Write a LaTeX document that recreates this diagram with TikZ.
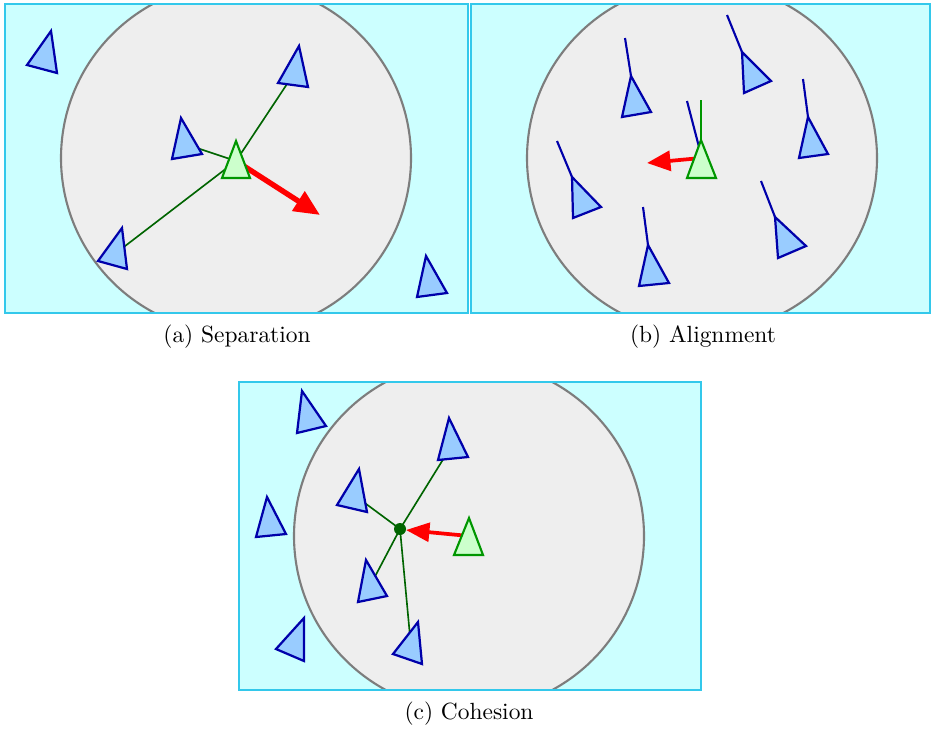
\documentclass[tikz,border=0pt]{standalone}
\usepackage{xcolor}
\usepackage{tikz}
\usetikzlibrary{arrows.meta}

\definecolor{panelbg}{RGB}{204,255,255}
\definecolor{panelline}{RGB}{51,200,235}
\definecolor{zonefill}{RGB}{238,238,238}
\definecolor{zoneline}{RGB}{125,125,125}
\definecolor{boidfill}{RGB}{153,204,255}
\definecolor{boidline}{RGB}{0,0,170}
\definecolor{selffill}{RGB}{204,255,204}
\definecolor{selfline}{RGB}{0,150,0}
\definecolor{linkgreen}{RGB}{0,100,0}

\begin{document}
\begin{tikzpicture}[
  x=0.015cm, y=-0.015cm,
  panel/.style={draw=panelline, line width=1.1pt},
  zone/.style={fill=zonefill, draw=zoneline, line width=0.9pt},
  boid/.style={fill=boidfill, draw=boidline, line width=0.95pt},
  self/.style={fill=selffill, draw=selfline, line width=0.9pt},
  link/.style={draw=linkgreen, line width=0.7pt},
  heading/.style={draw=boidline, line width=0.9pt},
  steer/.style={draw=red, line width=1.6pt, -{Triangle[length=10pt, width=8.5pt]}},
  caption/.style={font=\normalsize}
]
\useasboundingbox (0,0) rectangle (933,728);

% ---- (a) Separation ----
\fill[panelbg] (5,4) rectangle (468,313);
\begin{scope}
  \clip (5,4) rectangle (468,313);
  \draw[zone] (236,158) circle[radius=175];
\end{scope}
\draw[panel] (5,4) rectangle (468,313);

\coordinate (sepself) at (236,161);
\coordinate (sepn1)   at (295,72);
\coordinate (sepn2)   at (185,144);
\coordinate (sepn3)   at (116,253);

\draw[link] (sepself) -- (sepn1);
\draw[link] (sepself) -- (sepn2);
\draw[link] (sepself) -- (sepn3);
\draw[steer, line width=2.3pt, -{Triangle[length=11pt, width=9.5pt]}] (sepself) -- (320,215);

\draw[boid] (51,31) -- (27,65) -- (57,73) -- cycle;
\draw[boid] (299,46) -- (278,83) -- (308,87) -- cycle;
\draw[boid] (181,118) -- (172,159) -- (202,154) -- cycle;
\draw[boid] (122,228) -- (98,261) -- (127,269) -- cycle;
\draw[boid] (426,256) -- (417,297) -- (447,293) -- cycle;
\draw[self] (236,141) -- (222,178) -- (250,178) -- cycle;

\node[caption] (capa) at (237,337) {(a) Separation};

% ---- (b) Alignment ----
\fill[panelbg] (471,4) rectangle (930,313);
\begin{scope}
  \clip (471,4) rectangle (930,313);
  \draw[zone] (702,158) circle[radius=175];
\end{scope}
\draw[panel] (471,4) rectangle (930,313);

\coordinate (aliself) at (701,158);
\coordinate (alitip)  at (647,163);

\draw[heading] (631,76) -- (625,38);
\draw[heading] (742,52) -- (727,15);
\draw[heading] (808,117) -- (803,79);
\draw[heading] (699,147) -- (687,101);
\draw[heading] (572,177) -- (557,141);
\draw[heading] (648,245) -- (643,207);
\draw[heading] (775,217) -- (761,181);

\draw[boid] (631,76) -- (622,117) -- (651,112) -- cycle;
\draw[boid] (742,52) -- (744,93) -- (771,81) -- cycle;
\draw[boid] (808,117) -- (799,158) -- (828,154) -- cycle;
\draw[boid] (572,177) -- (573,218) -- (601,207) -- cycle;
\draw[boid] (648,245) -- (639,286) -- (669,283) -- cycle;
\draw[boid] (775,217) -- (778,258) -- (806,246) -- cycle;

\draw[steer] (aliself) -- (alitip);
\draw[selfline, line width=0.9pt] (701,140) -- (701,100);
\draw[self] (701,140) -- (687,178) -- (716,178) -- cycle;

\node[caption] (capb) at (703,337) {(b) Alignment};

% ---- (c) Cohesion ----
\fill[panelbg] (239,382) rectangle (701,690);
\begin{scope}
  \clip (239,382) rectangle (701,690);
  \draw[zone] (469,536) circle[radius=175];
\end{scope}
\draw[panel] (239,382) rectangle (701,690);

\coordinate (cohself) at (469,536);
\coordinate (cohmid)  at (400,529);
\coordinate (cohn1)   at (452,445);
\coordinate (cohn2)   at (354,495);
\coordinate (cohn3)   at (370,586);
\coordinate (cohn4)   at (411,647);

\draw[link] (cohmid) -- (cohn1);
\draw[link] (cohmid) -- (cohn2);
\draw[link] (cohmid) -- (cohn3);
\draw[link] (cohmid) -- (cohn4);

\draw[boid] (302,391) -- (297,433) -- (326,426) -- cycle;
\draw[boid] (449,418) -- (438,460) -- (468,457) -- cycle;
\draw[boid] (359,469) -- (337,505) -- (367,512) -- cycle;
\draw[boid] (267,497) -- (256,537) -- (286,534) -- cycle;
\draw[boid] (366,560) -- (358,602) -- (387,596) -- cycle;
\draw[boid] (418,622) -- (393,654) -- (422,664) -- cycle;
\draw[boid] (304,618) -- (276,649) -- (304,661) -- cycle;

\draw[steer, -{Triangle[length=10pt, width=8pt]}] (cohself) -- (406,530);
\fill[linkgreen] (cohmid) circle[radius=6];
\draw[self] (469,518) -- (454,555) -- (483,555) -- cycle;

\node[caption] (capc) at (469,714) {(c) Cohesion};

\end{tikzpicture}
\end{document}
